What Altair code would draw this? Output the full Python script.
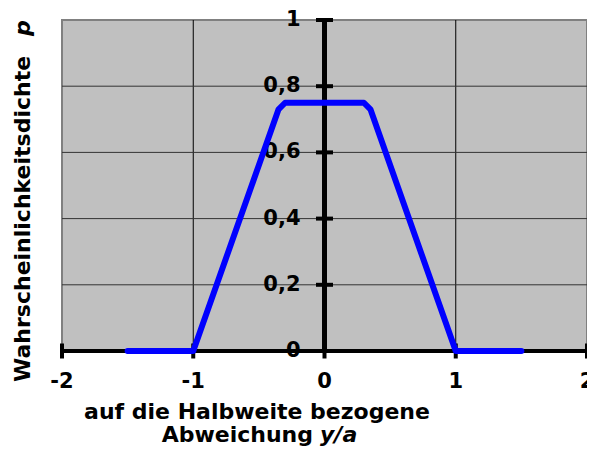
import altair as alt
import pandas as pd

# ---- data ----
y_over_a = [-1.5, -1.0, -0.35, -0.3, 0.3, 0.35, 1.0, 1.5]
density_p = [0.0, 0.0, 0.73, 0.75, 0.75, 0.73, 0.0, 0.0]
x_ticks = [-2, -1, 0, 1, 2]
x_tick_labels = ["-2", "-1", "0", "1", "2"]
y_ticks = [0, 0.2, 0.4, 0.6, 0.8, 1.0]
y_tick_labels = ["0", "0,2", "0,4", "0,6", "0,8", "1"]
x_grid = [-1, 1]
y_grid = [0.2, 0.4, 0.6, 0.8]

FONT = "DejaVu Sans"
xs = alt.Scale(domain=[-2, 2], nice=False, zero=False)
ys = alt.Scale(domain=[0, 1], nice=False, zero=False)

line_df = pd.DataFrame({"x": y_over_a, "p": density_p})
xt_df = pd.DataFrame({"x": x_ticks, "lab": x_tick_labels, "y": [0] * len(x_ticks)})
yt_df = pd.DataFrame({"y": y_ticks, "lab": y_tick_labels, "x": [0] * len(y_ticks)})
xg_df = pd.DataFrame({"x": x_grid, "y0": [0] * len(x_grid), "y1": [1] * len(x_grid)})
yg_df = pd.DataFrame({"y": y_grid, "x0": [-2] * len(y_grid), "x1": [2] * len(y_grid)})
xax_df = pd.DataFrame({"x0": [-2], "x1": [2], "y": [0]})
yax_df = pd.DataFrame({"x": [0], "y0": [0], "y1": [1]})
one = pd.DataFrame({"d": [0]})

vgrid = alt.Chart(xg_df).mark_rule(color="#000000", strokeWidth=1).encode(
    x=alt.X("x:Q", scale=xs, axis=None),
    y=alt.Y("y0:Q", scale=ys, axis=None),
    y2="y1:Q",
)
hgrid = alt.Chart(yg_df).mark_rule(color="#333333", strokeWidth=1).encode(
    y=alt.Y("y:Q", scale=ys, axis=None),
    x=alt.X("x0:Q", scale=xs, axis=None),
    x2="x1:Q",
)
xaxis_line = alt.Chart(xax_df).mark_rule(color="#000000", strokeWidth=4).encode(
    x=alt.X("x0:Q", scale=xs, axis=None),
    x2="x1:Q",
    y=alt.Y("y:Q", scale=ys, axis=None),
)
yaxis_line = alt.Chart(yax_df).mark_rule(color="#000000", strokeWidth=5).encode(
    x=alt.X("x:Q", scale=xs, axis=None),
    y=alt.Y("y0:Q", scale=ys, axis=None),
    y2="y1:Q",
)
xtick_marks = alt.Chart(xt_df).mark_tick(
    orient="vertical", size=15, thickness=4, color="#000000", opacity=1
).encode(
    x=alt.X("x:Q", scale=xs, axis=None),
    y=alt.Y("y:Q", scale=ys, axis=None),
)
ytick_marks = alt.Chart(yt_df).mark_tick(
    orient="horizontal", size=17, thickness=4, color="#000000", opacity=1
).encode(
    x=alt.X("x:Q", scale=xs, axis=None),
    y=alt.Y("y:Q", scale=ys, axis=None),
)
xlabels = alt.Chart(xt_df).mark_text(
    font=FONT, fontSize=21, fontWeight="bold", align="center", baseline="middle",
    dy=31, color="#000000",
).encode(
    x=alt.X("x:Q", scale=xs, axis=None),
    y=alt.Y("y:Q", scale=ys, axis=None),
    text="lab:N",
)
ylabels = alt.Chart(yt_df).mark_text(
    font=FONT, fontSize=21, fontWeight="bold", align="right", baseline="middle",
    dx=-24, color="#000000",
).encode(
    x=alt.X("x:Q", scale=xs, axis=None),
    y=alt.Y("y:Q", scale=ys, axis=None),
    text="lab:N",
)
curve = alt.Chart(line_df).mark_line(
    color="#0000FF", strokeWidth=6, strokeCap="round", strokeJoin="round"
).encode(
    x=alt.X("x:Q", scale=xs, axis=None),
    y=alt.Y("p:Q", scale=ys, axis=None),
)


def label(text, x, y, align="center", angle=0, italic=False, baseline="alphabetic"):
    kw = dict(
        text=text, font=FONT, fontSize=22, fontWeight="bold", align=align,
        baseline=baseline, color="#000000",
    )
    if angle:
        kw["angle"] = angle
    if italic:
        kw["fontStyle"] = "italic"
    return alt.Chart(one).mark_text(**kw).encode(x=alt.value(x), y=alt.value(y))


titles = [
    label("auf die Halbweite bezogene", 195, 399),
    label("Abweichung", 251, 422, align="right"),
    label("y/a", 258, 422, align="left", italic=True),
    label("Wahrscheinlichkeitsdichte", -32, 362, align="left", angle=270),
    label("p", -32, 16, align="left", angle=270, italic=True),
]

chart = alt.layer(
    vgrid, hgrid, xaxis_line, yaxis_line, xtick_marks, ytick_marks,
    xlabels, ylabels, curve, *titles,
).properties(
    width=525,
    height=331,
    padding={"left": 54, "top": 12, "right": 0, "bottom": 96},
    autosize="none",
    background="#FFFFFF",
).configure_view(
    fill="#C0C0C0", stroke="#808080", strokeWidth=2
)

chart.save("out.html", embed_options={"renderer": "svg", "actions": False})
